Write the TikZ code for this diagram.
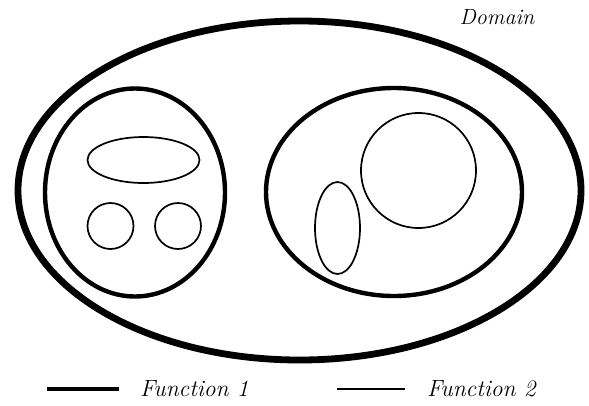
\documentclass[tikz,border=0pt]{standalone}
\usetikzlibrary{positioning}
\begin{document}
\begin{tikzpicture}[x=1pt, y=-1pt,
    domainring/.style={line width=6.8pt},
    thickring/.style={line width=4.4pt},
    thinring/.style={line width=1.7pt},
    labeltext/.style={font=\fontsize{23.5}{28}\selectfont\itshape, inner sep=0pt}]
  \useasboundingbox (0,0) rectangle (589,405);

  % Domain
  \draw[domainring] (299.5,190.5) ellipse [x radius=281.5, y radius=169.5];
  \node (domain) at (497,17) [labeltext, font=\fontsize{22}{26}\selectfont\itshape] {Domain};

  % Function 1 classes
  \draw[thickring] (135,192.5) ellipse [x radius=90, y radius=104];
  \draw[thickring] (394,192) ellipse [x radius=128, y radius=104];

  % Function 2 classes, left
  \draw[thinring] (143.5,160) ellipse [x radius=56, y radius=23];
  \draw[thinring] (110.5,226) circle [radius=23];
  \draw[thinring] (178,226) circle [radius=23];

  % Function 2 classes, right
  \draw[thinring] (418.5,170.5) circle [radius=57.5];
  \draw[thinring] (337.5,228) ellipse [x radius=22.5, y radius=46];

  % Legend
  \coordinate (fone a) at (47,389);
  \coordinate (fone b) at (119,389);
  \draw[thickring] (fone a) -- (fone b);
  \node (fone) [labeltext, anchor=west, right=21pt of fone b] {Function 1};

  \coordinate (ftwo a) at (337,389);
  \coordinate (ftwo b) at (405,389);
  \draw[thinring] (ftwo a) -- (ftwo b);
  \node (ftwo) [labeltext, anchor=west, right=22pt of ftwo b] {Function 2};
\end{tikzpicture}
\end{document}
